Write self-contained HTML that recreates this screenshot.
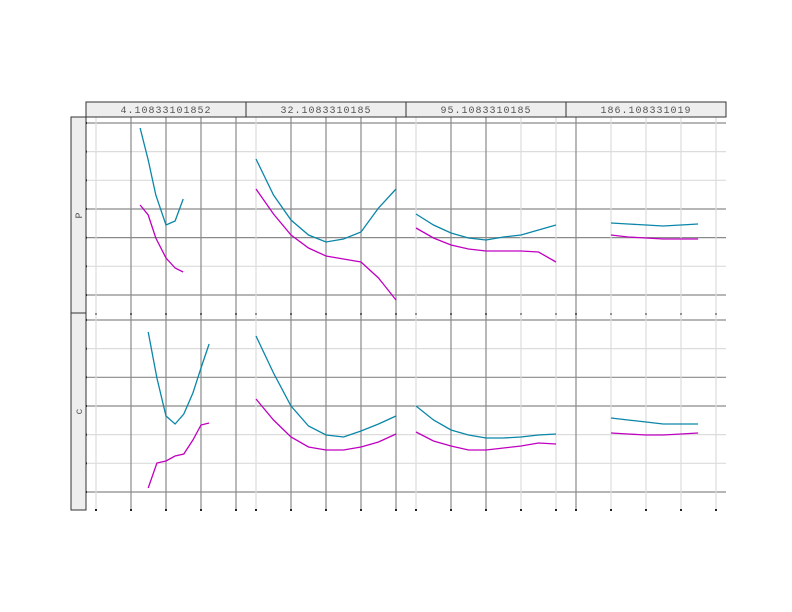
<!DOCTYPE html>
<html><head><meta charset="utf-8"><style>
body{margin:0;background:#fff;width:792px;height:612px;overflow:hidden}
svg{display:block;font-family:"Liberation Mono","DejaVu Sans Mono",monospace}
</style></head><body>
<svg id="c" width="792" height="612"></svg>
<script>
const panelTitles=["4.10833101852","32.1083310185","95.1083310185","186.108331019"];
const rowTitles=["P","c"];
const xP1=[1.26,1.49,1.71,2,2.26,2.49];
const xB1=[1.49,1.74,2,2.26,2.51,2.77,3,3.23];
const xMid=[0,0.5,1,1.5,2,2.5,3,3.5,4];
const xP4=[0,0.49,1,1.49,2,2.49];
const xs=[[xP1,xMid,xMid,xP4],[xB1,xMid,xMid,xP4]];
const tealTop=[[167,135,100,70,74,96],[136,100,75,60,53,56,63,87,106],[81,70,62,57,55,58,60,65,70],[72,71,70,69,70,71]];
const magTop=[[90,80,57,37,27,23],[106,81,60,47,39,36,33,17,-5],[67,57,50,46,44,44,44,43,33],[60,58,57,56,56,56]];
const tealBot=[[160,114,76,68,78,99,124,148],[156,119,86,66,57,55,61,68,76],[86,72,62,57,54,54,55,57,58],[74,72,70,68,68,68]];
const magBot=[[4,29,31,36,38,52,67,69],[93,72,55,45,42,42,45,50,58],[60,51,46,42,42,44,46,49,48],[59,58,57,57,58,59]];
const series=[[tealTop,magTop],[tealBot,magBot]];
const colors=["#0a86a8","#c000c0"];
const NS="http://www.w3.org/2000/svg",svg=document.getElementById("c");
function el(t,a,p){const e=document.createElementNS(NS,t);for(const k in a)e.setAttribute(k,a[k]);(p||svg).appendChild(e);return e;}
const PL=86,PW=160,rowTop=[117,313],RH=197;
const gxStyles=[["L","D","D","D","D"],["L","D","D","D","D"],["L","D","D","L","L"],["D","L","L","L","L"]];
const gxOff=[10,45,80,115,150];
const gyTop=[[6,"D"],[5,"L"],[4,"L"],[3,"D"],[2,"D"],[1,"L"],[0,"D"]];
const gyBot=[[6,"D"],[5,"L"],[4,"D"],[3,"D"],[2,"L"],[1,"L"],[0,"D"]];
function xScale(p,v){return PL+p*PW+(p==3?45:10)+v*35;}
function yScale(r,v){const base=r==0?295:492;return base-v;}
function gridY(r,i){return (r==0?295:492)-i*28.67;}
for(let r=0;r<2;r++){
 const g=el("g",{});
 
 
 const gy=r==0?gyTop:gyBot;
 for(let p=0;p<4;p++){
  const x0=PL+p*PW;
  gy.slice().sort((a,b)=>(a[1]=="L"?-1:1)).forEach(([i,s])=>{
   const y=gridY(r,i);
   const l=el("line",{x1:x0,x2:x0+PW,y1:y,y2:y,stroke:s=="D"?"#8a8a8a":"#dcdcdc","stroke-width":1.2},g);
   
  });
  gxOff.forEach((o,k)=>{
   const x=x0+o,s=gxStyles[p][k];
   const l=el("line",{x1:x,x2:x,y1:rowTop[r],y2:rowTop[r]+RH,stroke:s=="D"?"#8a8a8a":"#dcdcdc","stroke-width":1.2},g);
   
   el("rect",{x:x-1,y:rowTop[r]+RH-1,width:2,height:2,fill:"#222"},g);
  });
  series[r].forEach((ser,si)=>{
   const pts=ser[p].map((v,i)=>xScale(p,xs[r][p][i]).toFixed(1)+","+yScale(r,v).toFixed(1)).join(" ");
   const pl=el("polyline",{points:pts,fill:"none",stroke:colors[si],"stroke-width":1.3},g);
   
   
  });
 }
 gy.forEach(([i])=>{el("rect",{x:PL-1,y:gridY(r,i)-1,width:2,height:2,fill:"#222"},g);});
 const st=el("rect",{x:71,y:rowTop[r],width:15,height:RH,fill:"#eeeeee",stroke:"#333","stroke-width":1},g);
 
 const t=el("text",{x:0,y:0,"font-size":10,fill:"#555","text-anchor":"middle",transform:`translate(82,${rowTop[r]+RH/2}) rotate(-90)`},g);
 t.textContent=rowTitles[r];
 
}
for(let p=0;p<4;p++){
 const r=el("rect",{x:PL+p*PW,y:102,width:PW,height:15,fill:"#eeeeee",stroke:"#333","stroke-width":1});
 
 const t=el("text",{x:PL+p*PW+PW/2,y:113,"font-size":10,fill:"#555","text-anchor":"middle","letter-spacing":"1"});
 t.textContent=panelTitles[p];
 
}
</script>
</body></html>
